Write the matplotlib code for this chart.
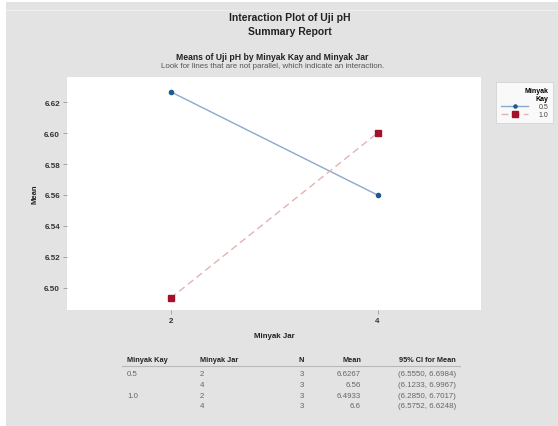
import matplotlib
matplotlib.use("Agg")
import matplotlib.pyplot as plt
from matplotlib.patches import Rectangle
from matplotlib.lines import Line2D

plt.rcParams["font.family"] = ["Liberation Sans", "DejaVu Sans"]

# data
jar_levels = [2, 4]
kay_levels = ["0.5", "1.0"]
means_kay05 = [6.6267, 6.56]
means_kay10 = [6.4933, 6.60]
y_ticks = [6.50, 6.52, 6.54, 6.56, 6.58, 6.60, 6.62]

tbl_header = ["Minyak Kay", "Minyak Jar", "N", "Mean", "95% CI for Mean"]
tbl_kay = ["0.5", "", "1.0", ""]
tbl_jar = ["2", "4", "2", "4"]
tbl_n = ["3", "3", "3", "3"]
tbl_mean = ["6.6267", "6.56", "6.4933", "6.6"]
tbl_ci = ["(6.5550, 6.6984)", "(6.1233, 6.9967)", "(6.2850, 6.7017)", "(6.5752, 6.6248)"]

W, H = 558, 427
fig = plt.figure(figsize=(W / 100, H / 100), dpi=100)
fig.patch.set_facecolor("white")

def fx(px):
    return px / W

def fy(py):
    return 1 - py / H

# gray report panel
fig.add_artist(Rectangle((fx(6), 0), 1 - fx(6), fy(3), transform=fig.transFigure,
                         facecolor="#e3e3e3", edgecolor="none", zorder=-10))
fig.add_artist(Line2D([fx(6), 1], [fy(11), fy(11)], transform=fig.transFigure,
                      color="#efefef", lw=0.8, zorder=-5))

ax = fig.add_axes([fx(67), fy(311), fx(481) - fx(67), fy(78) - fy(311)])
ax.set_facecolor("white")
for s in ax.spines.values():
    s.set_visible(False)

ax.plot(jar_levels, means_kay05, color="#8aa8cf", lw=1.0, ls="-",
        marker="o", ms=3, mfc="#1f5a8c", mec="#1f5a8c", label=kay_levels[0])
ax.plot(jar_levels, means_kay10, color="#e2b4b4", lw=1.0, ls=(0, (5, 3)),
        marker="s", ms=5, mfc="#a3122a", mec="#a3122a", label=kay_levels[1])

ax.set_xlim(1, 5)
ax.set_ylim(6.4857, 6.6362)
ax.set_xticks(jar_levels)
ax.set_xticklabels([str(j) for j in jar_levels])
ax.set_yticks(y_ticks)
ax.set_yticklabels(["%.2f" % v for v in y_ticks])
ax.tick_params(axis="both", length=3, width=0.6, color="#999999",
               labelsize=5.8, pad=2)
for lab in ax.get_yticklabels() + ax.get_xticklabels():
    lab.set_fontweight("bold")
    lab.set_color("#333333")
ax.set_xlabel("Minyak Jar", fontsize=5.7, fontweight="bold", labelpad=6, color="#222222")
ax.set_ylabel("Mean", fontsize=5.5, fontweight="bold", labelpad=4, color="#222222")

leg = fig.legend(title="Minyak\nKay", loc="upper left",
                 bbox_to_anchor=(fx(493), fy(80)), fontsize=5, title_fontsize=5,
                 frameon=True, fancybox=False, edgecolor="#cccccc",
                 handlelength=4.0, handletextpad=1.5, borderpad=0.6,
                 labelspacing=0.2, alignment="right", markerscale=0.75)
leg.get_frame().set_linewidth(0.6)
leg.get_title().set_fontweight("bold")
leg.get_title().set_multialignment("right")
for t in leg.get_texts():
    t.set_color("#444444")

# titles
fig.text(fx(290), fy(18), "Interaction Plot of Uji pH", ha="center", va="center",
         fontsize=7.5, fontweight="bold", color="#222222")
fig.text(fx(290), fy(32), "Summary Report", ha="center", va="center",
         fontsize=7.5, fontweight="bold", color="#222222")
fig.text(fx(272), fy(57), "Means of Uji pH by Minyak Kay and Minyak Jar", ha="center",
         va="center", fontsize=6.2, fontweight="bold", color="#222222")
fig.text(fx(273), fy(67), "Look for lines that are not parallel, which indicate an interaction.",
         ha="center", va="center", fontsize=5.7, color="#555555")

# summary table
col_x = [127, 200, 304, 361, 456]
col_ha = ["left", "left", "right", "right", "right"]
for x, ha, txt in zip(col_x, col_ha, tbl_header):
    fig.text(fx(x), fy(360), txt, ha=ha, va="center", fontsize=5.3,
             fontweight="bold", color="#222222")
fig.add_artist(Line2D([fx(122), fx(460)], [fy(367), fy(367)], transform=fig.transFigure,
                      color="#b8b8b8", lw=0.8))
row_y = [375, 386, 397, 407]
cols = [tbl_kay, tbl_jar, tbl_n, tbl_mean, tbl_ci]
for x, ha, col in zip(col_x, col_ha, cols):
    for y, txt in zip(row_y, col):
        fig.text(fx(x), fy(y), txt, ha=ha, va="center", fontsize=5.7,
                 color="#666666")

fig.savefig("out.png", dpi=100)
